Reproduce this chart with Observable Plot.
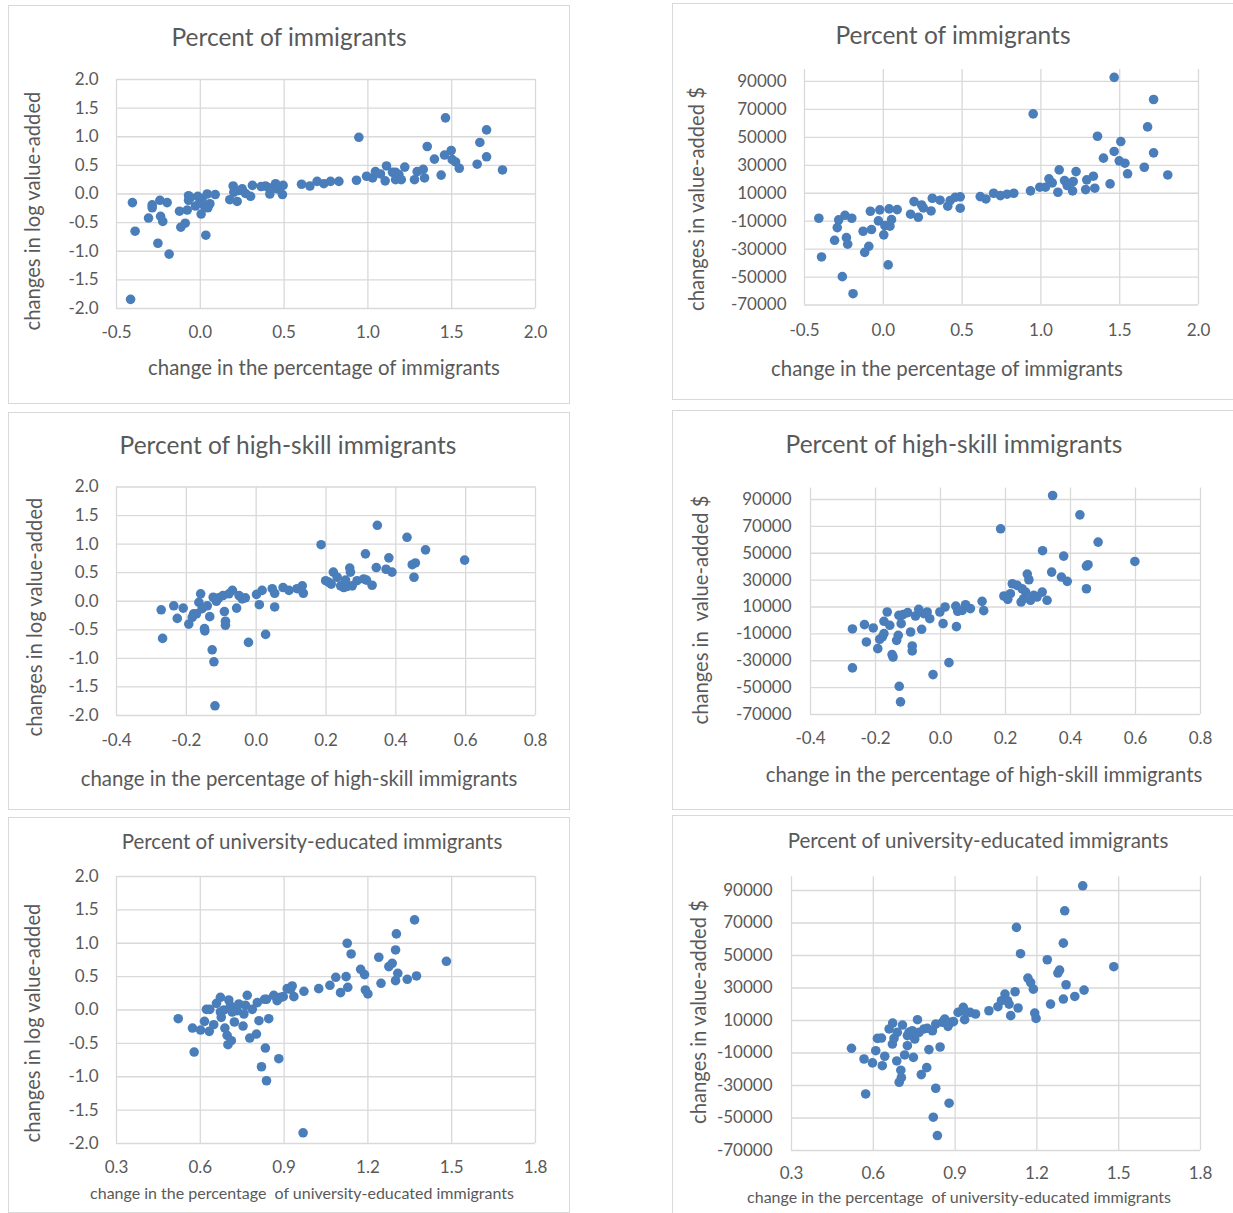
<!DOCTYPE html>
<html>
<head>
<meta charset="utf-8">
<script src="https://cdn.jsdelivr.net/npm/d3@7"></script>
<script src="https://cdn.jsdelivr.net/npm/@observablehq/plot@0.6"></script>
<style>
  html, body { margin: 0; padding: 0; background: #fff; overflow: hidden; }
  #page { position: relative; width: 1233px; height: 1213px; overflow: hidden; font-family: Lato, "Open Sans", sans-serif; color: #595959; }
  .box { position: absolute; border: 1px solid #d9d9d9; box-sizing: border-box; }
  .lbl { position: absolute; transform: translate(-50%, -50%); white-space: pre; line-height: 1; }
  .ylbl { position: absolute; transform: translate(-50%, -50%) rotate(-90deg); white-space: pre; line-height: 1; }
  svg { position: absolute; }
</style>
</head>
<body>
<div id="page"></div>
<script>
// ---------- tick values ----------
const ticksImmX = [-0.5, 0, 0.5, 1, 1.5, 2];
const ticksHsX = [-0.4, -0.2, 0, 0.2, 0.4, 0.6, 0.8];
const ticksUniX = [0.3, 0.6, 0.9, 1.2, 1.5, 1.8];
const ticksLogY = [-2, -1.5, -1, -0.5, 0, 0.5, 1, 1.5, 2];
const ticksDollarY = [-70000, -50000, -30000, -10000, 10000, 30000, 50000, 70000, 90000];

// ---------- panel 1: percent of immigrants vs log value-added ----------
const immX_log = [-0.416,-0.405,-0.389,-0.309,-0.287,-0.287,-0.253,-0.241,-0.237,-0.224,
  -0.198,-0.186,-0.124,-0.116,-0.090,-0.078,-0.070,-0.070,-0.029,-0.015,
  -0.003,0.005,0.011,0.033,0.041,0.045,0.057,0.089,0.176,0.196,
  0.200,0.220,0.250,0.270,0.300,0.311,0.363,0.409,0.415,0.449,
  0.459,0.490,0.494,0.604,0.654,0.697,0.737,0.777,0.827,0.932,
  0.946,0.992,1.028,1.045,1.075,1.103,1.111,1.147,1.165,1.185,
  1.199,1.220,1.278,1.294,1.330,1.338,1.354,1.397,1.437,1.463,
  1.457,1.497,1.503,1.523,1.545,1.652,1.668,1.708,1.708,1.803,
  -0.058,0.025,0.230,0.389,1.165];
const immLogY = [-1.84,-0.15,-0.65,-0.42,-0.19,-0.24,-0.86,-0.11,-0.39,-0.48,
  -0.15,-1.05,-0.30,-0.58,-0.51,-0.28,-0.03,-0.11,-0.21,-0.04,
  -0.15,-0.35,-0.08,-0.72,0.00,-0.24,-0.17,-0.01,-0.10,0.14,
  0.03,-0.13,0.09,0.01,-0.04,0.15,0.13,0.11,0.00,0.18,
  0.09,-0.01,0.15,0.17,0.14,0.22,0.18,0.22,0.22,0.24,
  0.99,0.31,0.28,0.39,0.35,0.23,0.49,0.38,0.25,0.34,
  0.25,0.47,0.25,0.39,0.43,0.28,0.83,0.61,0.33,1.33,
  0.68,0.76,0.60,0.56,0.45,0.52,0.90,1.12,0.65,0.42,
  -0.06,-0.21,0.06,0.14,0.38];

// ---------- panel 2: percent of immigrants vs value-added $ ----------
const immX_usd = [-0.409,-0.392,-0.309,-0.292,-0.283,-0.243,-0.234,-0.226,-0.260,-0.200,
  -0.192,-0.128,-0.118,-0.092,-0.082,-0.075,-0.031,-0.022,0.003,0.010,
  0.031,0.037,0.042,0.052,0.088,0.173,0.195,0.222,0.243,0.254,
  0.303,0.311,0.360,0.409,0.424,0.456,0.488,0.488,0.615,0.651,
  0.700,0.743,0.785,0.828,0.934,0.951,0.993,1.029,1.051,1.072,
  1.108,1.116,1.150,1.167,1.201,1.205,1.223,1.284,1.291,1.333,
  1.342,1.359,1.397,1.439,1.465,1.465,1.497,1.507,1.533,1.550,
  1.656,1.677,1.715,1.715,1.805];
const immUsdY = [-7900,-35600,-23700,-14600,-9100,-5800,-21800,-26500,-49700,-7900,
  -61900,-17200,-32300,-28000,-2900,-16000,-9800,-1900,-19800,-13200,
  -41300,-1200,-13600,-8900,-1700,-5000,4000,-7200,1600,-500,
  -2700,6400,5000,700,4700,7100,7400,-700,7600,5900,
  10000,8300,9300,10000,11700,66800,14300,14300,20300,17400,
  10700,26700,19100,15500,11700,18400,25500,12600,19600,22200,
  13600,50800,35100,16700,39900,92900,33200,47000,31500,23900,
  28600,57500,77100,38900,23100];

// ---------- panel 3: high-skill immigrants vs log value-added ----------
const hsX_log = [-0.272,-0.268,-0.236,-0.226,-0.209,-0.193,-0.183,-0.171,-0.164,-0.159,
  -0.155,-0.148,-0.147,-0.133,-0.126,-0.121,-0.118,-0.123,-0.114,-0.095,
  -0.091,-0.088,-0.088,-0.068,-0.056,-0.049,-0.031,-0.022,0.001,0.009,
  0.017,0.027,0.046,0.053,0.053,0.077,0.094,0.117,0.132,0.135,
  0.186,0.199,0.215,0.221,0.232,0.251,0.256,0.268,0.270,0.275,
  0.289,0.313,0.316,0.332,0.344,0.347,0.372,0.380,0.389,0.432,
  0.447,0.456,0.452,0.485,0.597,
  -0.179,-0.140,-0.107,-0.078,-0.040,0.208,0.242,0.261,0.308];
const hsLogY = [-0.15,-0.65,-0.08,-0.30,-0.12,-0.40,-0.28,-0.22,-0.02,0.13,
  -0.13,-0.48,-0.52,-0.27,-0.85,-1.06,-1.83,0.07,0.00,0.10,
  -0.18,-0.35,-0.42,0.19,-0.12,0.10,0.06,-0.72,0.12,-0.06,
  0.19,-0.58,0.22,-0.10,0.14,0.24,0.19,0.22,0.27,0.14,
  0.99,0.36,0.30,0.51,0.42,0.24,0.37,0.58,0.51,0.27,
  0.36,0.83,0.37,0.28,0.59,1.33,0.56,0.76,0.51,1.12,
  0.64,0.67,0.42,0.90,0.72,
  -0.22,-0.08,0.06,0.13,0.04,0.33,0.27,0.26,0.39];

// ---------- panel 4: high-skill immigrants vs value-added $ ----------
const hsX_usd = [-0.271,-0.271,-0.234,-0.228,-0.207,-0.193,-0.187,-0.174,-0.174,-0.164,
  -0.156,-0.149,-0.146,-0.135,-0.130,-0.128,-0.127,-0.123,-0.121,-0.101,
  -0.092,-0.087,-0.087,-0.067,-0.058,-0.051,-0.033,-0.023,-0.002,0.008,
  0.014,0.026,0.047,0.049,0.053,0.077,0.092,0.128,0.133,0.185,
  0.195,0.207,0.221,0.236,0.248,0.251,0.262,0.267,0.272,0.277,
  0.287,0.313,0.314,0.328,0.342,0.345,0.372,0.379,0.390,0.429,
  0.449,0.454,0.449,0.485,0.598,
  -0.179,-0.115,-0.077,-0.041,0.067,0.215,0.256,0.297];
const hsUsdY = [-6350,-35300,-3100,-16000,-5600,-21000,-14000,-9800,-650,6300,
  -3600,-25400,-27200,-14800,-11100,3800,-49000,-60600,-2400,5800,
  -8600,-19000,-22700,8300,-6600,5000,1300,-40300,6300,-2400,
  10000,-31400,10700,-4600,6800,11700,8800,14200,7300,68200,
  18200,15700,27300,26100,13700,23600,21100,34500,30300,15000,
  18700,21100,51900,15000,36000,93000,32300,47900,29100,78600,
  40500,41500,23600,58300,43900,
  -12300,4300,3300,6300,7500,19900,16200,17400];

// ---------- panel 5: university-educated immigrants vs log value-added ----------
const uniX_log = [0.521,0.572,0.578,0.601,0.615,0.622,0.632,0.634,0.648,0.658,
  0.672,0.675,0.684,0.688,0.696,0.699,0.702,0.711,0.714,0.722,
  0.738,0.753,0.756,0.768,0.777,0.786,0.801,0.810,0.819,0.833,
  0.837,0.845,0.837,0.863,0.875,0.881,0.897,0.911,0.929,0.935,
  0.968,0.971,1.024,1.064,1.085,1.102,1.122,1.128,1.126,1.140,
  1.174,1.188,1.191,1.200,1.239,1.247,1.275,1.287,1.299,1.299,
  1.302,1.307,1.341,1.367,1.374,1.481,
  0.672,0.708,0.732,0.762,0.804,0.830,0.887,0.923];
const uniLogY = [-0.13,-0.27,-0.63,-0.30,-0.17,0.01,-0.32,0.01,-0.22,0.10,
  0.19,-0.11,0.00,-0.27,-0.38,-0.52,0.15,-0.46,-0.03,-0.18,
  0.09,-0.24,-0.06,0.22,-0.42,0.01,-0.36,-0.16,-0.85,-0.57,
  -1.06,-0.13,0.16,0.22,0.14,-0.73,0.20,0.32,0.36,0.20,
  -1.84,0.28,0.32,0.37,0.49,0.26,0.50,0.34,1.00,0.84,
  0.61,0.53,0.30,0.24,0.79,0.40,0.65,0.70,0.90,0.44,
  1.14,0.55,0.46,1.35,0.51,0.73,
  -0.03,0.06,-0.01,0.07,0.11,0.16,0.19,0.31];

// ---------- panel 6: university-educated immigrants vs value-added $ ----------
const uniX_usd = [0.520,0.566,0.572,0.597,0.609,0.615,0.630,0.633,0.642,0.658,
  0.670,0.671,0.676,0.686,0.695,0.701,0.703,0.707,0.715,0.725,
  0.731,0.747,0.752,0.762,0.768,0.776,0.786,0.796,0.804,0.817,
  0.820,0.829,0.835,0.829,0.845,0.862,0.874,0.878,0.894,0.911,
  0.930,0.935,0.955,0.975,1.024,1.057,1.070,1.083,1.098,1.104,
  1.120,1.125,1.131,1.140,1.167,1.177,1.187,1.192,1.197,1.238,
  1.250,1.277,1.283,1.297,1.297,1.302,1.307,1.339,1.368,1.373,
  1.482,
  0.688,0.725,0.743,0.798,0.853,0.884,0.939,1.092];
const uniUsdY = [-7100,-13700,-35200,-16100,-8600,-1000,-800,-17800,-12000,4800,
  -4500,8400,-1000,-14900,-28000,-20600,-25200,7200,-11200,-5500,
  2700,-12700,-1400,10500,2700,-23300,4800,-19000,-7900,3700,
  -49500,-31700,-60800,7800,-6300,10900,6400,-40900,9300,15000,
  18100,10500,15000,14000,16000,18500,22200,26300,20100,13000,
  27700,67300,17700,51100,36100,33400,29300,14600,11300,47400,
  20100,39200,41000,57600,23200,77500,32000,24800,92900,28700,
  43100,
  2700,700,3700,5200,8900,8900,15400,22200];

// ---------- titles & labels ----------
const titles = ["Percent of immigrants", "Percent of immigrants",
  "Percent of high-skill immigrants", "Percent of high-skill immigrants",
  "Percent of university-educated immigrants", "Percent of university-educated immigrants"];
const xLabels = ["change in the percentage of immigrants", "change in the percentage of immigrants",
  "change in the percentage of high-skill immigrants", "change in the percentage of high-skill immigrants",
  "change in the percentage  of university-educated immigrants", "change in the percentage  of university-educated immigrants"];
const yLabels = ["changes in log value-added", "changes in value-added $",
  "changes in log value-added", "changes in  value-added $",
  "changes in log value-added", "changes in value-added $"];

const page = document.getElementById("page");
const FONT = 'Lato, "Open Sans", sans-serif';
const GRID = "#d9d9d9";
const DOT = "#4a7ebb";

function fmt1(d) { return d.toFixed(1); }
function fmt0(d) { return String(d); }

function addText(cls, text, cx, cy, size) {
  const el = document.createElement("div");
  el.className = cls;
  el.textContent = text;
  el.style.left = cx + "px";
  el.style.top = cy + "px";
  el.style.fontSize = size + "px";
  page.appendChild(el);
}

function panel(cfg) {
  const b = cfg.box, a = cfg.area;
  const border = document.createElement("div");
  border.className = "box";
  Object.assign(border.style, {left: b.x + "px", top: b.y + "px", width: b.w + "px", height: b.h + "px"});
  page.appendChild(border);

  const data = cfg.xs.map((x, i) => ({x, y: cfg.ys[i]}));
  const svg = Plot.plot({
    width: b.w, height: b.h,
    marginLeft: a.x0 - b.x, marginRight: b.x + b.w - a.x1,
    marginTop: a.y0 - b.y, marginBottom: b.y + b.h - a.y1,
    style: {fontFamily: FONT, fontSize: cfg.tickSize + "px", color: "#595959", background: "transparent", overflow: "visible"},
    x: {domain: cfg.xDomain, ticks: cfg.xTicks, tickFormat: cfg.xFmt, tickSize: 0, tickPadding: cfg.xPad, label: null},
    y: {domain: cfg.yDomain, ticks: cfg.yTicks, tickFormat: cfg.yFmt, tickSize: 0, tickPadding: cfg.yPad, label: null},
    marks: [
      Plot.ruleX(cfg.xTicks, {stroke: GRID, strokeWidth: 1.3}),
      Plot.ruleY(cfg.yTicks, {stroke: GRID, strokeWidth: 1.3}),
      Plot.dot(data, {x: "x", y: "y", r: 4.8, fill: DOT, stroke: "none"})
    ]
  });
  svg.style.left = b.x + "px";
  svg.style.top = b.y + "px";
  page.appendChild(svg);

  addText("lbl", cfg.title, cfg.titlePos[0], cfg.titlePos[1], cfg.titleSize);
  addText("lbl", cfg.xLabel, cfg.xLabelPos[0], cfg.xLabelPos[1], cfg.xLabelSize);
  addText("ylbl", cfg.yLabel, cfg.yLabelPos[0], cfg.yLabelPos[1], cfg.yLabelSize);
}

// dollar panels: y domain runs a little above the top tick
const USD_TOP = 98500;

panel({box: {x: 8, y: 5, w: 562, h: 399}, area: {x0: 116, x1: 535, y0: 79, y1: 308},
  xs: immX_log, ys: immLogY, xDomain: [-0.5, 2], xTicks: ticksImmX, xFmt: fmt1,
  yDomain: [-2, 2], yTicks: ticksLogY, yFmt: fmt1, xPad: 17, yPad: 18, tickSize: 17,
  title: titles[0], titlePos: [289, 37], titleSize: 24.5,
  xLabel: xLabels[0], xLabelPos: [324, 367], xLabelSize: 20.4,
  yLabel: yLabels[0], yLabelPos: [32, 211], yLabelSize: 20.2});

panel({box: {x: 672, y: 3, w: 575, h: 397}, area: {x0: 804, x1: 1198, y0: 69.1, y1: 304.5},
  xs: immX_usd, ys: immUsdY, xDomain: [-0.5, 2], xTicks: ticksImmX, xFmt: fmt1,
  yDomain: [-70000, USD_TOP], yTicks: ticksDollarY, yFmt: fmt0, xPad: 19, yPad: 18, tickSize: 17,
  title: titles[1], titlePos: [953, 35], titleSize: 24.5,
  xLabel: xLabels[1], xLabelPos: [947, 368], xLabelSize: 20.4,
  yLabel: yLabels[1], yLabelPos: [696, 199], yLabelSize: 20.2});

panel({box: {x: 8, y: 412, w: 562, h: 398}, area: {x0: 116, x1: 535, y0: 486.5, y1: 715},
  xs: hsX_log, ys: hsLogY, xDomain: [-0.4, 0.8], xTicks: ticksHsX, xFmt: fmt1,
  yDomain: [-2, 2], yTicks: ticksLogY, yFmt: fmt1, xPad: 18, yPad: 18, tickSize: 17,
  title: titles[2], titlePos: [288, 445], titleSize: 24.5,
  xLabel: xLabels[2], xLabelPos: [299, 778], xLabelSize: 20.4,
  yLabel: yLabels[2], yLabelPos: [34, 617], yLabelSize: 20.2});

panel({box: {x: 672, y: 410, w: 575, h: 400}, area: {x0: 810, x1: 1200, y0: 487.6, y1: 714},
  xs: hsX_usd, ys: hsUsdY, xDomain: [-0.4, 0.8], xTicks: ticksHsX, xFmt: fmt1,
  yDomain: [-70000, USD_TOP], yTicks: ticksDollarY, yFmt: fmt0, xPad: 17, yPad: 19, tickSize: 17,
  title: titles[3], titlePos: [954, 444], titleSize: 24.5,
  xLabel: xLabels[3], xLabelPos: [984, 774], xLabelSize: 20.4,
  yLabel: yLabels[3], yLabelPos: [700, 610], yLabelSize: 20.2});

panel({box: {x: 8, y: 817, w: 562, h: 396}, area: {x0: 116, x1: 535, y0: 876, y1: 1143},
  xs: uniX_log, ys: uniLogY, xDomain: [0.3, 1.8], xTicks: ticksUniX, xFmt: fmt1,
  yDomain: [-2, 2], yTicks: ticksLogY, yFmt: fmt1, xPad: 17, yPad: 18, tickSize: 17,
  title: titles[4], titlePos: [312, 841], titleSize: 20.5,
  xLabel: xLabels[4], xLabelPos: [302, 1193], xLabelSize: 16,
  yLabel: yLabels[4], yLabelPos: [32, 1023], yLabelSize: 20.2});

panel({box: {x: 672, y: 815, w: 575, h: 405}, area: {x0: 791, x1: 1200, y0: 876.2, y1: 1150},
  xs: uniX_usd, ys: uniUsdY, xDomain: [0.3, 1.8], xTicks: ticksUniX, xFmt: fmt1,
  yDomain: [-70000, USD_TOP], yTicks: ticksDollarY, yFmt: fmt0, xPad: 16, yPad: 19, tickSize: 17,
  title: titles[5], titlePos: [978, 840], titleSize: 20.5,
  xLabel: xLabels[5], xLabelPos: [959, 1197], xLabelSize: 16,
  yLabel: yLabels[5], yLabelPos: [698, 1012], yLabelSize: 20.2});
</script>
</body>
</html>
